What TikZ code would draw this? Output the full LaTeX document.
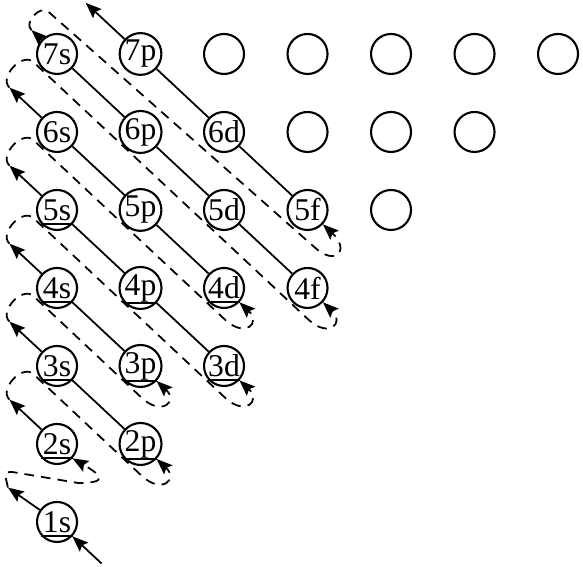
\documentclass[tikz,border=0pt]{standalone}
\usepackage{fontspec}
\setmainfont{Liberation Serif}
\usetikzlibrary{arrows.meta, calc}

\begin{document}
\begin{tikzpicture}[x=1.67cm, y=1.56cm,
    orb/.style={circle, draw, line width=1.2pt, minimum size=0.8cm, inner sep=0pt, font=\fontsize{18}{18}\selectfont},
    bar/.style={line width=1.1pt},
    link/.style={line width=1pt},
    arr/.style={-{Stealth[length=9pt, width=7pt, inset=1.5pt]}},
    hop/.style={line width=1pt, dash pattern=on 5.5pt off 4pt}]
    \useasboundingbox (-0.683,-0.577) rectangle (6.299,6.692);

    % orbitals
    \node[orb] (s1) at (0,0) {1s};
    \node[orb] (s2) at (0,1) {2s};
    \node[orb] (p2) at (1,1) {2p};
    \node[orb] (s3) at (0,2) {3s};
    \node[orb] (p3) at (1,2) {3p};
    \node[orb] (d3) at (2,2) {3d};
    \node[orb] (s4) at (0,3) {4s};
    \node[orb] (p4) at (1,3) {4p};
    \node[orb] (d4) at (2,3) {4d};
    \node[orb] (f4) at (3,3) {4f};
    \node[orb] (s5) at (0,4) {5s};
    \node[orb] (p5) at (1,4) {5p};
    \node[orb] (d5) at (2,4) {5d};
    \node[orb] (f5) at (3,4) {5f};
    \node[orb] (g5) at (4,4) {};
    \node[orb] (s6) at (0,5) {6s};
    \node[orb] (p6) at (1,5) {6p};
    \node[orb] (d6) at (2,5) {6d};
    \node[orb] (f6) at (3,5) {};
    \node[orb] (g6) at (4,5) {};
    \node[orb] (h6) at (5,5) {};
    \node[orb] (s7) at (0,6) {7s};
    \node[orb] (p7) at (1,6) {7p};
    \node[orb] (d7) at (2,6) {};
    \node[orb] (f7) at (3,6) {};
    \node[orb] (g7) at (4,6) {};
    \node[orb] (h7) at (5,6) {};
    \node[orb] (i7) at (6,6) {};

    % filled ones
    \draw[bar] (s1.222) -- (s1.318);
    \draw[bar] (s2.222) -- (s2.318);
    \draw[bar] (p2.222) -- (p2.318);
    \draw[bar] (s3.222) -- (s3.318);
    \draw[bar] (p3.222) -- (p3.318);
    \draw[bar] (d3.222) -- (d3.318);
    \draw[bar] (s4.222) -- (s4.318);
    \draw[bar] (p4.222) -- (p4.318);
    \draw[bar] (d4.222) -- (d4.318);
    \draw[bar] (s5.222) -- (s5.318);

    % free ends
    \coordinate (a1) at ($(s1)+(-43:1.22cm)$);
    \coordinate (t1) at ($(s1)+(145:1.2cm)$);
    \coordinate (t2) at ($(s2)+(137:1.3cm)$);
    \coordinate (t3) at ($(s3)+(137:1.3cm)$);
    \coordinate (t4) at ($(s4)+(137:1.3cm)$);
    \coordinate (t5) at ($(s5)+(137:1.3cm)$);
    \coordinate (t6) at ($(s6)+(137:1.3cm)$);
    \coordinate (t7) at ($(s7)+(137:0.7cm)$);
    \coordinate (t8) at ($(p7)+(137:1.5cm)$);

    % diagonals
    \draw[link, arr] (a1) -- (s1);
    \draw[link, arr] (s1) -- (t1);
    \draw[link, arr] (s2) -- (t2);
    \draw[link] (p2) -- (s3);
    \draw[link, arr] (s3) -- (t3);
    \draw[link] (p3) -- (s4);
    \draw[link, arr] (s4) -- (t4);
    \draw[link] (d3) -- (p4);
    \draw[link] (p4) -- (s5);
    \draw[link, arr] (s5) -- (t5);
    \draw[link] (d4) -- (p5);
    \draw[link] (p5) -- (s6);
    \draw[link, arr] (s6) -- (t6);
    \draw[link] (f4) -- (d5);
    \draw[link] (d5) -- (p6);
    \draw[link] (p6) -- (s7);
    \draw[link, arr] (s7) -- (t7);
    \draw[link] (f5) -- (d6);
    \draw[link] (d6) -- (p7);
    \draw[link, arr] (p7) -- (t8);

    % dashed returns
    \coordinate (q1) at ($(s1)+(-0.9cm,1.0cm)$);
    \coordinate (r1) at ($(s1)+(0.42cm,0.78cm)$);
    \draw[hop, arr] (t1) .. controls +(100:0.25cm) and +(180:0.2cm) .. (q1) -- (r1)
        .. controls +(0:0.6cm) and +(-30:0.7cm) .. (s2.317);

    \coordinate (q2) at ($(t2)+(47:0.7cm)$);
    \coordinate (r2) at ($(p2)+(227:0.45cm)+(-43:0.45cm)$);
    \draw[hop, arr] (t2) .. controls +(137:0.3cm) and +(137:0.3cm) .. (q2) -- (r2)
        .. controls +(-43:0.55cm) and +(-43:0.6cm) .. (p2.317);

    \coordinate (q3) at ($(t3)+(47:0.7cm)$);
    \coordinate (r3) at ($(p3)+(227:0.45cm)+(-43:0.45cm)$);
    \draw[hop, arr] (t3) .. controls +(137:0.3cm) and +(137:0.3cm) .. (q3) -- (r3)
        .. controls +(-43:0.55cm) and +(-43:0.6cm) .. (p3.317);

    \coordinate (q4) at ($(t4)+(47:0.7cm)$);
    \coordinate (r4) at ($(d3)+(227:0.45cm)+(-43:0.45cm)$);
    \draw[hop, arr] (t4) .. controls +(137:0.3cm) and +(137:0.3cm) .. (q4) -- (r4)
        .. controls +(-43:0.55cm) and +(-43:0.6cm) .. (d3.317);

    \coordinate (q5) at ($(t5)+(47:0.7cm)$);
    \coordinate (r5) at ($(d4)+(227:0.45cm)+(-43:0.45cm)$);
    \draw[hop, arr] (t5) .. controls +(137:0.3cm) and +(137:0.3cm) .. (q5) -- (r5)
        .. controls +(-43:0.55cm) and +(-43:0.6cm) .. (d4.317);

    \coordinate (q6) at ($(t6)+(47:0.7cm)$);
    \coordinate (r6) at ($(f4)+(227:0.45cm)+(-43:0.45cm)$);
    \draw[hop, arr] (t6) .. controls +(137:0.3cm) and +(137:0.3cm) .. (q6) -- (r6)
        .. controls +(-43:0.55cm) and +(-43:0.6cm) .. (f4.317);

    \coordinate (q7) at ($(t7)+(47:0.5cm)$);
    \coordinate (r7) at ($(f5)+(227:0.45cm)+(-43:0.6cm)$);
    \draw[hop, arr] (t7) .. controls +(137:0.22cm) and +(137:0.22cm) .. (q7) -- (r7)
        .. controls +(-43:0.6cm) and +(-43:0.75cm) .. (f5.317);

\end{tikzpicture}
\end{document}
